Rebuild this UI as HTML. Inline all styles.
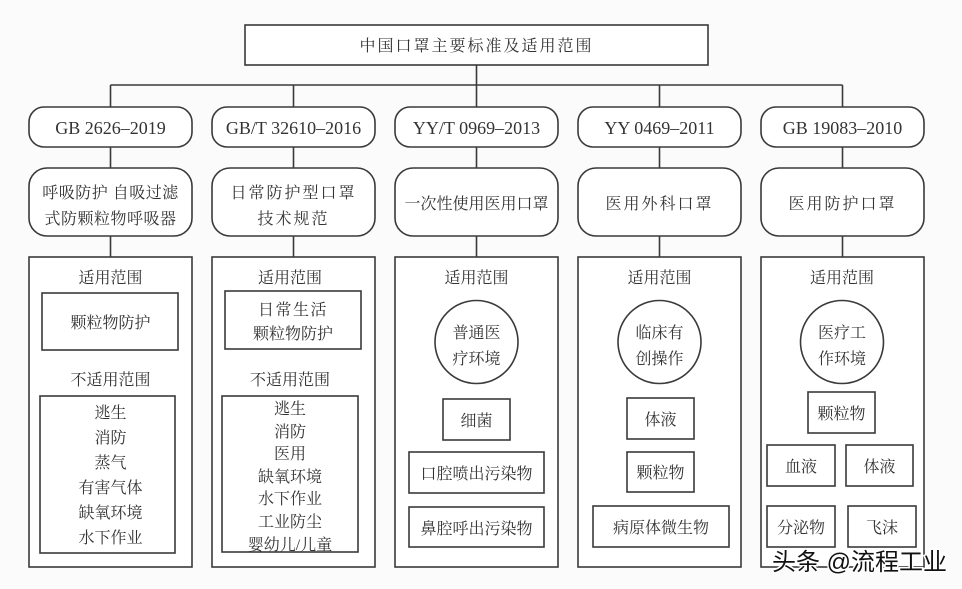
<!DOCTYPE html>
<html><head><meta charset="utf-8"><style>
html,body{margin:0;padding:0;background:#fff;}
svg{display:block;}
text{font-family:"Liberation Serif","Noto Serif CJK SC",serif;fill:#333;}
</style></head><body>
<svg width="962" height="589" viewBox="0 0 962 589" xmlns="http://www.w3.org/2000/svg">
<rect width="962" height="589" fill="#fbfbfb"/>
<g fill="none" stroke="#3a3a3a" stroke-width="1.6">
<rect x="245" y="25" width="463" height="40" fill="#fff"/>
<path d="M476.5 65V85M110.5 85H842.5M110.5 85V107M293.5 85V107M476.5 85V107M659.5 85V107M842.5 85V107"/>
<path d="M110.5 147V168M293.5 147V168M476.5 147V168M659.5 147V168M842.5 147V168"/>
<path d="M110.5 236V257M293.5 236V257M476.5 236V257M659.5 236V257M842.5 236V257"/>
<g fill="#fff">
<rect x="29" y="107" width="163" height="40" rx="15"/>
<rect x="212" y="107" width="163" height="40" rx="15"/>
<rect x="395" y="107" width="163" height="40" rx="15"/>
<rect x="578" y="107" width="163" height="40" rx="15"/>
<rect x="761" y="107" width="163" height="40" rx="15"/>
<rect x="29" y="168" width="163" height="68" rx="18"/>
<rect x="212" y="168" width="163" height="68" rx="18"/>
<rect x="395" y="168" width="163" height="68" rx="18"/>
<rect x="578" y="168" width="163" height="68" rx="18"/>
<rect x="761" y="168" width="163" height="68" rx="18"/>
<rect x="29" y="257" width="163" height="310"/>
<rect x="212" y="257" width="163" height="310"/>
<rect x="395" y="257" width="163" height="310"/>
<rect x="578" y="257" width="163" height="310"/>
<rect x="761" y="257" width="163" height="310"/>
</g>
<rect x="42" y="293" width="136" height="57"/>
<rect x="40" y="396" width="135" height="157"/>
<rect x="225" y="291" width="136" height="58"/>
<rect x="222" y="396" width="136" height="156"/>
<circle cx="476.5" cy="342" r="41.5"/>
<rect x="443" y="399" width="67" height="41"/>
<rect x="409" y="452" width="135" height="41"/>
<rect x="409" y="507" width="135" height="40"/>
<circle cx="659.5" cy="342" r="41.5"/>
<rect x="627" y="398" width="67" height="41"/>
<rect x="627" y="452" width="67" height="40"/>
<rect x="593" y="506" width="136" height="41"/>
<circle cx="842" cy="342" r="41.5"/>
<rect x="808" y="392" width="67" height="41"/>
<rect x="767" y="445" width="68" height="41"/>
<rect x="846" y="445" width="67" height="41"/>
<rect x="767" y="506" width="68" height="41"/>
<rect x="848" y="506" width="68" height="41"/>
</g>
<g font-size="16" text-anchor="middle">
<text x="476.5" y="51" letter-spacing="2">中国口罩主要标准及适用范围</text>
<g font-size="18">
<text x="110.5" y="134">GB 2626–2019</text>
<text x="293.5" y="134">GB/T 32610–2016</text>
<text x="476.5" y="134">YY/T 0969–2013</text>
<text x="659.5" y="134">YY 0469–2011</text>
<text x="842.5" y="134">GB 19083–2010</text>
</g>
<text x="110.5" y="198" letter-spacing="0.5">呼吸防护 自吸过滤</text>
<text x="110.5" y="224" letter-spacing="0.5">式防颗粒物呼吸器</text>
<text x="293.5" y="198" letter-spacing="2">日常防护型口罩</text>
<text x="293.5" y="224" letter-spacing="2">技术规范</text>
<text x="476.5" y="209" letter-spacing="0">一次性使用医用口罩</text>
<text x="659.5" y="209" letter-spacing="2">医用外科口罩</text>
<text x="842.5" y="209" letter-spacing="2">医用防护口罩</text>
<text x="110.5" y="283">适用范围</text>
<text x="110.5" y="328">颗粒物防护</text>
<text x="110.5" y="385">不适用范围</text>
<text x="110.5" y="418">逃生</text>
<text x="110.5" y="443">消防</text>
<text x="110.5" y="468">蒸气</text>
<text x="110.5" y="493">有害气体</text>
<text x="110.5" y="518">缺氧环境</text>
<text x="110.5" y="543">水下作业</text>
<text x="290" y="283">适用范围</text>
<text x="293" y="315" letter-spacing="1.5">日常生活</text>
<text x="293" y="339">颗粒物防护</text>
<text x="290" y="385">不适用范围</text>
<text x="290" y="414">逃生</text>
<text x="290" y="437">消防</text>
<text x="290" y="459">医用</text>
<text x="290" y="482">缺氧环境</text>
<text x="290" y="504">水下作业</text>
<text x="290" y="527">工业防尘</text>
<text x="290" y="550">婴幼儿/儿童</text>
<text x="476.5" y="283">适用范围</text>
<text x="476.5" y="338">普通医</text>
<text x="476.5" y="364">疗环境</text>
<text x="476.5" y="426">细菌</text>
<text x="476.5" y="479">口腔喷出污染物</text>
<text x="476.5" y="534">鼻腔呼出污染物</text>
<text x="659.5" y="283">适用范围</text>
<text x="659.5" y="338">临床有</text>
<text x="659.5" y="364">创操作</text>
<text x="660.5" y="425">体液</text>
<text x="660.5" y="478">颗粒物</text>
<text x="661" y="533">病原体微生物</text>
<text x="842" y="283">适用范围</text>
<text x="842" y="338">医疗工</text>
<text x="842" y="364">作环境</text>
<text x="841.5" y="419">颗粒物</text>
<text x="801" y="472">血液</text>
<text x="879.5" y="472">体液</text>
<text x="801" y="533">分泌物</text>
<text x="882" y="533">飞沫</text>
</g>
<text x="772" y="570" font-size="24" style="font-family:'Liberation Sans','Noto Sans CJK SC',sans-serif;fill:#111" stroke="#fff" stroke-width="3" paint-order="stroke">头条 @流程工业</text>
</svg>
</body></html>
